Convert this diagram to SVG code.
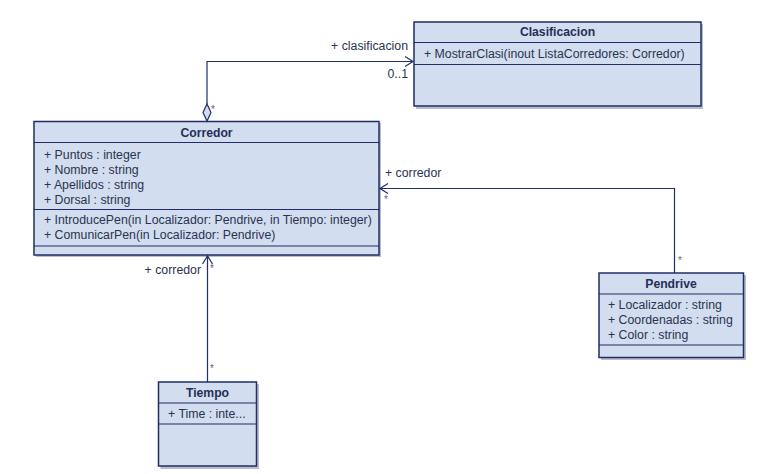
<svg xmlns="http://www.w3.org/2000/svg" width="757" height="474" viewBox="0 0 757 474">
<defs>
<style>
.box{fill:#D3DDF0;stroke:#1F2F66;stroke-width:1.5}
.sh{fill:#B8BFCC}
.div{stroke:#1F2F66;stroke-width:1.2}
.t{font-family:"Liberation Sans",Arial,sans-serif;font-size:12.3px;fill:#28344F}
.h{font-family:"Liberation Sans",Arial,sans-serif;font-size:12.2px;font-weight:bold;fill:#1F2F56;text-anchor:middle}
.c{fill:none;stroke:#1F2F66;stroke-width:1.2}
.m{font-family:"Liberation Sans",Arial,sans-serif;font-size:10px;fill:#6A5A7A}
</style>
</defs>
<rect width="757" height="474" fill="#FFFFFF"/>
<g id="Clasificacion">
<rect class="sh" x="416" y="24" width="287" height="85"/>
<rect class="box" x="414" y="22" width="287" height="84"/>
<line class="div" x1="414" y1="42.5" x2="701" y2="42.5"/>
<line class="div" x1="414" y1="64.5" x2="701" y2="64.5"/>
<text class="h" x="557.5" y="36">Clasificacion</text>
<text class="t" x="424" y="57.5">+ MostrarClasi(inout ListaCorredores: Corredor)</text>
</g>
<g id="Corredor">
<rect class="sh" x="36" y="123" width="345" height="134"/>
<rect class="box" x="34" y="121.5" width="345" height="133.5"/>
<line class="div" x1="34" y1="142.5" x2="379" y2="142.5"/>
<line class="div" x1="34" y1="209.5" x2="379" y2="209.5"/>
<line class="div" x1="34" y1="246" x2="379" y2="246"/>
<text class="h" x="206.5" y="136.5">Corredor</text>
<text class="t" x="44" y="158.5">+ Puntos : integer</text>
<text class="t" x="44" y="173.5">+ Nombre : string</text>
<text class="t" x="44" y="188.5">+ Apellidos : string</text>
<text class="t" x="44" y="203.5">+ Dorsal : string</text>
<text class="t" x="44" y="223.5">+ IntroducePen(in Localizador: Pendrive, in Tiempo: integer)</text>
<text class="t" x="44" y="238.5">+ ComunicarPen(in Localizador: Pendrive)</text>
</g>
<g id="Pendrive">
<rect class="sh" x="601" y="275" width="145" height="85"/>
<rect class="box" x="599" y="273" width="144.5" height="84.5"/>
<line class="div" x1="599" y1="294" x2="743.5" y2="294"/>
<line class="div" x1="599" y1="345" x2="743.5" y2="345"/>
<text class="h" x="671" y="288">Pendrive</text>
<text class="t" x="608" y="308.5">+ Localizador : string</text>
<text class="t" x="608" y="323.5">+ Coordenadas : string</text>
<text class="t" x="608" y="338.5">+ Color : string</text>
</g>
<g id="Tiempo">
<rect class="sh" x="160.5" y="384" width="98.5" height="85"/>
<rect class="box" x="158.5" y="382" width="98" height="84"/>
<line class="div" x1="158.5" y1="403" x2="256.5" y2="403"/>
<line class="div" x1="158.5" y1="424" x2="256.5" y2="424"/>
<text class="h" x="207.5" y="397">Tiempo</text>
<text class="t" x="168" y="417.5">+ Time : inte...</text>
</g>
<g id="connectors">
<polyline class="c" points="207,104 207,61.5 413,61.5"/>
<polyline class="c" points="405,56.5 413,61.5 405,66.5"/>
<polygon points="207,104 211,112.5 207,121 203,112.5" fill="#D3DDF0" stroke="#1F2F66" stroke-width="1.2"/>
<polyline class="c" points="674.5,273 674.5,188.5 380,188.5"/>
<polyline class="c" points="388,183.5 380,188.5 388,193.5"/>
<line class="c" x1="207.5" y1="382" x2="207.5" y2="256"/>
<polyline class="c" points="202.5,264 207.5,256 212.5,264"/>
</g>
<g id="labels">
<text class="t" x="408" y="49.5" text-anchor="end">+ clasificacion</text>
<text class="t" x="408" y="78" text-anchor="end">0..1</text>
<text class="m" x="211" y="113">*</text>
<text class="t" x="385" y="176.5">+ corredor</text>
<text class="m" x="384" y="203">*</text>
<text class="m" x="678" y="264">*</text>
<text class="t" x="201" y="273.5" text-anchor="end">+ corredor</text>
<text class="m" x="210" y="272">*</text>
<text class="m" x="210" y="372">*</text>
</g>
</svg>
